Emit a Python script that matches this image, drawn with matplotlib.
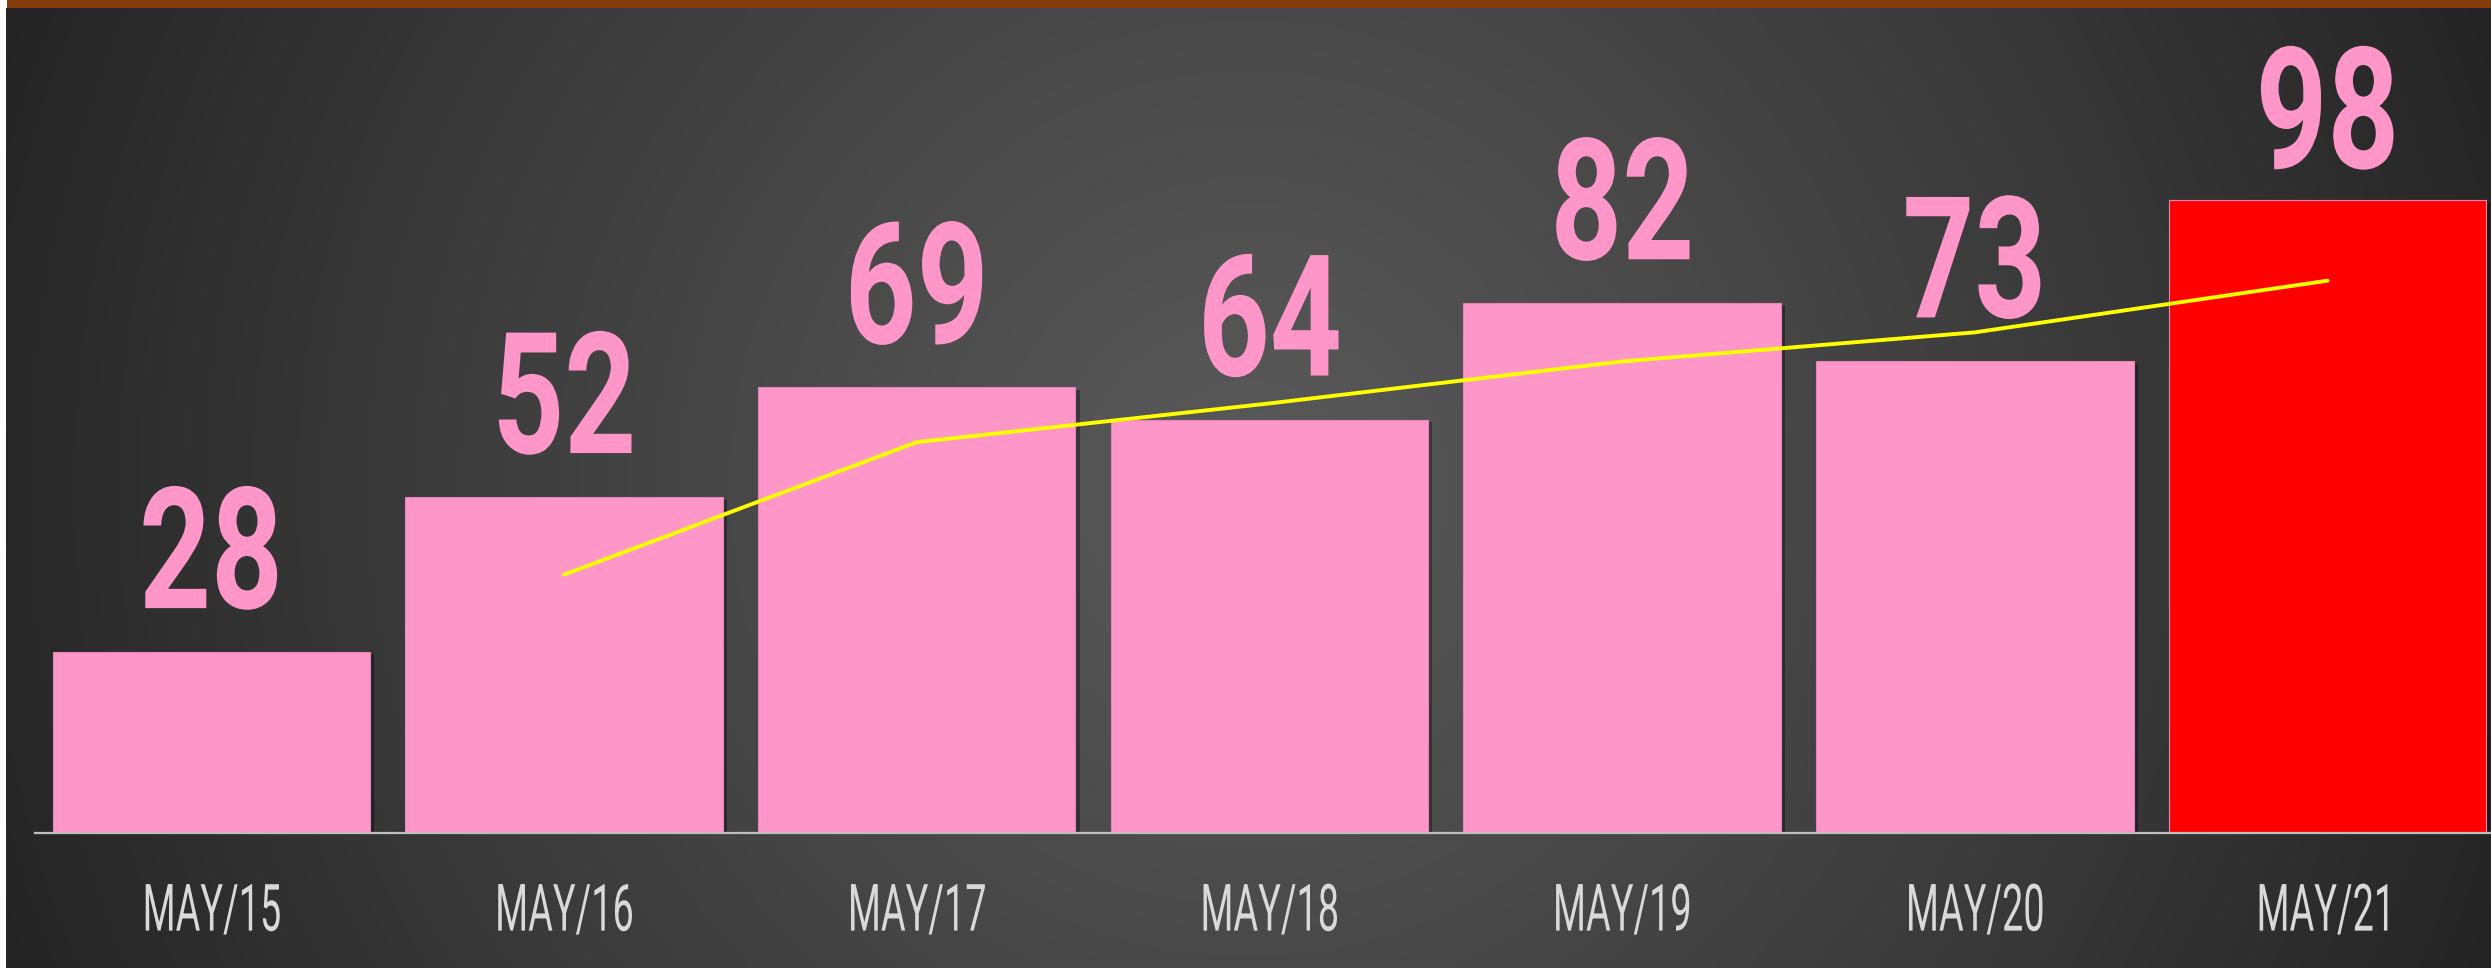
import numpy as np
import matplotlib
matplotlib.use("Agg")
import matplotlib.pyplot as plt
import matplotlib.patheffects as pe
from matplotlib.patches import Rectangle
from matplotlib.transforms import Affine2D

# ---- data ----
categories = ["MAY/15", "MAY/16", "MAY/17", "MAY/18", "MAY/19", "MAY/20", "MAY/21"]
values = [28, 52, 69, 64, 82, 73, 98]
bar_colors = ["#FF96C8", "#FF96C8", "#FF96C8", "#FF96C8", "#FF96C8", "#FF96C8", "#FF0000"]
trend_values = [40, 60.5, 66.5, 73, 77.5, 85.5]   # 2-period moving average trendline (May/16 .. May/21)

W, H = 2491, 968
DPI = 100
fig = plt.figure(figsize=(W / DPI, H / DPI), dpi=DPI)
fig.patch.set_facecolor("white")


class HSqueeze(pe.AbstractPathEffect):
    """Draw text glyphs horizontally condensed around their own centre."""
    def __init__(self, sx):
        super().__init__()
        self.sx = sx

    def draw_path(self, renderer, gc, tpath, affine, rgbFace=None):
        ext = tpath.get_extents(affine)
        cx = 0.5 * (ext.x0 + ext.x1)
        aff = affine + Affine2D().translate(-cx, 0).scale(self.sx, 1).translate(cx, 0)
        renderer.draw_path(gc, tpath, aff, rgbFace)


# ---- background radial gradient ----
bg = fig.add_axes([6 / W, 0, 1 - 6 / W, (H - 8) / H])
bg.set_axis_off()
nx, ny = 600, 240
xs = np.linspace(0, 1, nx)
ys = np.linspace(0, 1, ny)
X, Y = np.meshgrid(xs, ys)
bw, bh = W - 6, H - 8
cx, cy = 0.5, 0.5
d = np.sqrt(((X - cx) * bw) ** 2 + ((Y - cy) * bh) ** 2)
dmax = np.sqrt((0.5 * bw) ** 2 + (0.5 * bh) ** 2)
t = np.clip(d / dmax, 0, 1) ** 1.15
c_center, c_edge = 0x59 / 255, 0x24 / 255
g = c_center + (c_edge - c_center) * t
img = np.dstack([g, g, g])
bg.imshow(img, extent=[0, 1, 0, 1], origin="lower", aspect="auto", interpolation="bilinear")
bg.set_xlim(0, 1)
bg.set_ylim(0, 1)

# brown top border
fig.patches.append(Rectangle((7 / W, (H - 8) / H), 1 - 7 / W, 8 / H,
                             transform=fig.transFigure, facecolor="#843C0C",
                             edgecolor="none", zorder=5))

# ---- main axes ----
ax_left = 35 / W
ax_bottom = (H - 833) / H
ax_top = (H - 8) / H
ax = fig.add_axes([ax_left, ax_bottom, 1 - ax_left, ax_top - ax_bottom])
ax.set_facecolor("none")
px_per_unit = 6.46
ymax = (833 - 8) / px_per_unit
ax.set_ylim(0, ymax)
spacing = 352.7
ax.set_xlim(-0.5, -0.5 + (W - 35) / spacing)

x = np.arange(len(categories))
bars = ax.bar(x, values, width=0.9, color=bar_colors, edgecolor="#E585B5",
              linewidth=0.8, zorder=2)
for b in bars:
    b.set_path_effects([pe.SimplePatchShadow(offset=(3, -2), shadow_rgbFace="black", alpha=0.35),
                        pe.Normal()])

# trendline
ax.plot(x[1:], trend_values, color="#FFFF00", linewidth=2.8, solid_capstyle="round", zorder=4)

# value labels
off = 44 / px_per_unit
lim = (833 - 168) / px_per_unit
for xi, v in zip(x, values):
    ax.text(xi, min(v + off, lim), str(v), ha="center", va="baseline",
            fontsize=122, fontweight="bold", color="#FF96C8",
            family=["Roboto", "DejaVu Sans"], zorder=5,
            path_effects=[HSqueeze(0.74)])

# axes styling
for s in ["top", "right", "left"]:
    ax.spines[s].set_visible(False)
ax.spines["bottom"].set_color("#BFBFBF")
ax.spines["bottom"].set_linewidth(1.6)
ax.spines["bottom"].set_zorder(3)
ax.set_yticks([])
ax.set_xticks(x)
ax.set_xticklabels(categories, family=["Roboto", "DejaVu Sans"], fontweight="normal",
                   fontsize=47, color="#D9D9D9")
for lbl in ax.get_xticklabels():
    lbl.set_path_effects([HSqueeze(0.58)])
ax.tick_params(axis="x", length=0, pad=35)

fig.savefig("out.png", dpi=DPI, facecolor=fig.get_facecolor())
